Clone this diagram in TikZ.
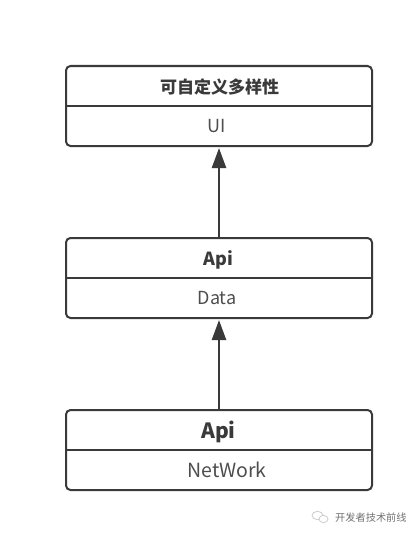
\documentclass[tikz,border=0pt]{standalone}
\usepackage{fontspec}
\setmainfont{Noto Sans CJK SC}
\usetikzlibrary{arrows.meta}
\definecolor{ink}{HTML}{3A3A3A}
\tikzset{
  x=1pt,y=-1pt,
  classbox/.style={draw=ink,line width=2pt,rounded corners=4.5pt,fill=white,minimum width=306pt,minimum height=80pt,inner sep=0pt},
  divider/.style={draw=ink,line width=2pt},
  titletext/.style={text=ink,font=\fontsize{17}{19}\selectfont\bfseries,inner sep=0pt},
  membertext/.style={text=ink!90,font=\fontsize{18}{20}\selectfont,inner sep=0pt},
  inherit/.style={draw=ink,line width=2.4pt,-{Triangle[length=20pt,width=14pt]},shorten >=1pt},
  mark text/.style={text=black!55,font=\fontsize{10.2}{12}\selectfont,inner sep=0pt}
}
\begin{document}
\begin{tikzpicture}
\useasboundingbox (0,0) rectangle (417,535);
\fill[white] (0,0) rectangle (417,535);
% boxes
\node[classbox] (ui)  at (219,106) {};
\node[classbox] (data) at (219,278) {};
\node[classbox] (net) at (219,450) {};
% dividers
\draw[divider] (ui.west) -- (ui.east);
\draw[divider] (data.west) -- (data.east);
\draw[divider] (net.west) -- (net.east);
% texts
\node[titletext] (t1) at (219.5,87) {可自定义多样性};
\node[membertext] (m1) at (216.5,126.5) {UI};
\node[titletext,font=\fontsize{18}{20}\selectfont\bfseries] (t2) at (218.5,259.5) {Api};
\node[membertext] (m2) at (217,298.5) {Data};
\node[titletext,font=\fontsize{21}{23}\selectfont\bfseries] (t3) at (218.5,431.5) {Api};
\node[membertext,font=\fontsize{19.5}{22}\selectfont] (m3) at (227,470) {NetWork};
% connectors
\draw[inherit] (data.north) -- (ui.south);
\draw[inherit] (net.north) -- (data.south);
% watermark
\draw[black!20,line width=0.8pt,fill=white] (317.5,515.5) ellipse (5.5pt and 4.2pt);
\draw[black!20,line width=0.8pt,fill=white] (323.5,519) ellipse (4.5pt and 3.6pt);
\node[mark text,anchor=west] (wm) at (335,518) {开发者技术前线};
\end{tikzpicture}
\end{document}
